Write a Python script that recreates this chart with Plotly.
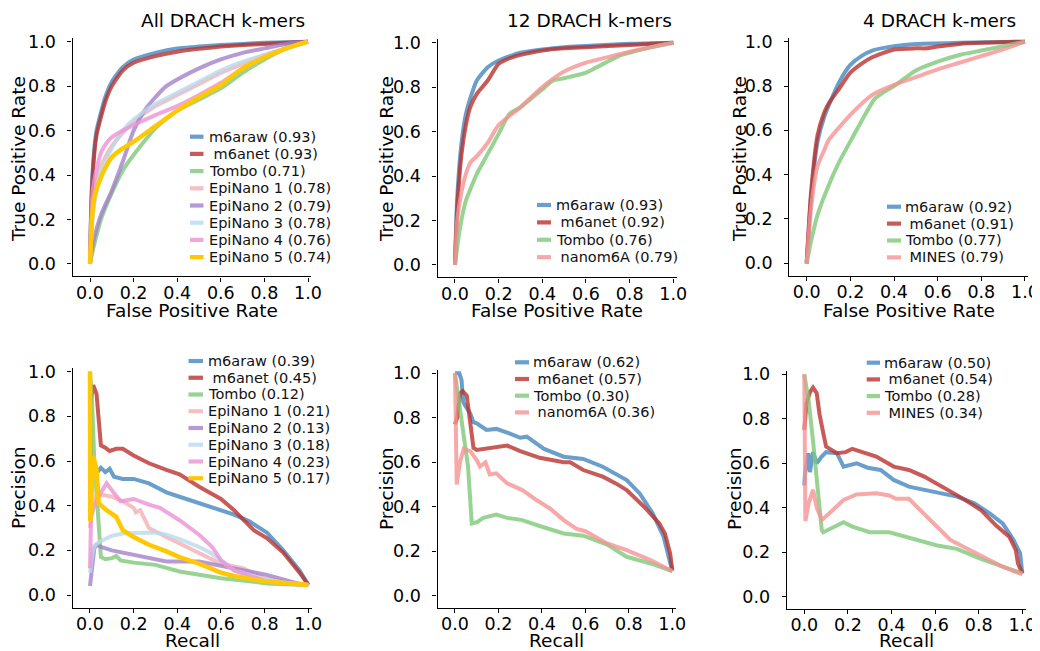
import plotly.graph_objects as go

# ---------------- data ----------------
tick_vals = [0.0, 0.2, 0.4, 0.6, 0.8, 1.0]
tick_text = ["0.0", "0.2", "0.4", "0.6", "0.8", "1.0"]
panel_titles = ["All DRACH k-mers", "12 DRACH k-mers", "4 DRACH k-mers"]

# --- ROC, all DRACH k-mers ---
roc_all_m6araw_x = [0, 0.005, 0.01, 0.02, 0.03, 0.05, 0.07, 0.1, 0.15, 0.2, 0.3, 0.4, 0.5, 0.6, 0.7, 0.8, 0.9, 1.0]
roc_all_m6araw_y = [0, 0.25, 0.38, 0.52, 0.6, 0.68, 0.75, 0.82, 0.885, 0.92, 0.95, 0.97, 0.978, 0.985, 0.99, 0.995, 0.998, 1.0]
roc_all_m6anet_x = [0, 0.005, 0.01, 0.02, 0.03, 0.05, 0.07, 0.1, 0.15, 0.2, 0.3, 0.4, 0.5, 0.6, 0.7, 0.8, 0.9, 1.0]
roc_all_m6anet_y = [0, 0.22, 0.35, 0.5, 0.58, 0.66, 0.73, 0.80, 0.87, 0.905, 0.935, 0.955, 0.968, 0.978, 0.985, 0.99, 0.995, 1.0]
roc_all_tombo_x = [0, 0.01, 0.02, 0.05, 0.1, 0.15, 0.2, 0.3, 0.4, 0.5, 0.6, 0.7, 0.8, 0.9, 1.0]
roc_all_tombo_y = [0, 0.05, 0.09, 0.2, 0.32, 0.42, 0.49, 0.61, 0.69, 0.74, 0.79, 0.86, 0.92, 0.97, 1.0]
roc_all_epi1_x = [0, 0.01, 0.02, 0.05, 0.1, 0.15, 0.2, 0.3, 0.4, 0.5, 0.6, 0.7, 0.8, 0.9, 1.0]
roc_all_epi1_y = [0, 0.2, 0.3, 0.44, 0.53, 0.59, 0.64, 0.71, 0.76, 0.81, 0.86, 0.9, 0.94, 0.97, 1.0]
roc_all_epi2_x = [0, 0.01, 0.02, 0.05, 0.1, 0.15, 0.2, 0.25, 0.3, 0.35, 0.4, 0.5, 0.6, 0.7, 0.8, 0.9, 1.0]
roc_all_epi2_y = [0, 0.07, 0.12, 0.22, 0.33, 0.46, 0.6, 0.69, 0.75, 0.8, 0.83, 0.88, 0.92, 0.95, 0.97, 0.99, 1.0]
roc_all_epi3_x = [0, 0.01, 0.02, 0.05, 0.1, 0.15, 0.2, 0.3, 0.4, 0.5, 0.6, 0.7, 0.8, 0.9, 1.0]
roc_all_epi3_y = [0, 0.18, 0.27, 0.42, 0.52, 0.6, 0.65, 0.72, 0.77, 0.82, 0.87, 0.91, 0.94, 0.97, 1.0]
roc_all_epi4_x = [0, 0.01, 0.02, 0.05, 0.08, 0.1, 0.15, 0.2, 0.3, 0.4, 0.5, 0.6, 0.7, 0.8, 0.9, 1.0]
roc_all_epi4_y = [0, 0.3, 0.38, 0.5, 0.55, 0.57, 0.6, 0.625, 0.67, 0.71, 0.76, 0.815, 0.88, 0.93, 0.97, 1.0]
roc_all_epi5_x = [0, 0.01, 0.02, 0.05, 0.08, 0.1, 0.15, 0.2, 0.3, 0.4, 0.5, 0.6, 0.7, 0.8, 0.9, 1.0]
roc_all_epi5_y = [0, 0.22, 0.3, 0.39, 0.45, 0.48, 0.52, 0.55, 0.62, 0.69, 0.75, 0.805, 0.88, 0.93, 0.97, 1.0]

# --- ROC, 12 DRACH k-mers ---
roc_12_m6araw_x = [0, 0.01, 0.03, 0.05, 0.07, 0.1, 0.15, 0.2, 0.3, 0.4, 0.5, 0.6, 0.8, 1.0]
roc_12_m6araw_y = [0, 0.3, 0.55, 0.68, 0.75, 0.83, 0.89, 0.92, 0.955, 0.97, 0.98, 0.985, 0.995, 1.0]
roc_12_m6anet_x = [0, 0.01, 0.03, 0.05, 0.07, 0.1, 0.15, 0.2, 0.25, 0.3, 0.4, 0.5, 0.6, 0.8, 1.0]
roc_12_m6anet_y = [0, 0.25, 0.5, 0.63, 0.71, 0.77, 0.83, 0.905, 0.93, 0.945, 0.965, 0.975, 0.98, 0.99, 1.0]
roc_12_tombo_x = [0, 0.02, 0.05, 0.07, 0.1, 0.15, 0.2, 0.25, 0.3, 0.4, 0.45, 0.5, 0.6, 0.65, 0.75, 0.8, 0.9, 1.0]
roc_12_tombo_y = [0, 0.15, 0.29, 0.34, 0.41, 0.5, 0.59, 0.68, 0.71, 0.79, 0.83, 0.84, 0.865, 0.89, 0.94, 0.955, 0.98, 1.0]
roc_12_nanom6a_x = [0, 0.01, 0.03, 0.05, 0.07, 0.1, 0.15, 0.2, 0.3, 0.4, 0.5, 0.6, 0.7, 0.8, 0.9, 1.0]
roc_12_nanom6a_y = [0, 0.2, 0.33, 0.41, 0.46, 0.49, 0.55, 0.63, 0.71, 0.8, 0.87, 0.91, 0.935, 0.96, 0.98, 1.0]

# --- ROC, 4 DRACH k-mers ---
roc_4_m6araw_x = [0, 0.02, 0.05, 0.08, 0.1, 0.15, 0.2, 0.25, 0.3, 0.4, 0.5, 0.7, 1.0]
roc_4_m6araw_y = [0, 0.3, 0.55, 0.66, 0.71, 0.82, 0.895, 0.935, 0.96, 0.98, 0.99, 0.995, 1.0]
roc_4_m6anet_x = [0, 0.02, 0.05, 0.08, 0.1, 0.15, 0.2, 0.25, 0.3, 0.4, 0.5, 0.55, 0.6, 0.7, 0.8, 1.0]
roc_4_m6anet_y = [0, 0.32, 0.58, 0.68, 0.72, 0.79, 0.86, 0.9, 0.93, 0.965, 0.97, 0.97, 0.978, 0.99, 0.995, 1.0]
roc_4_tombo_x = [0, 0.02, 0.05, 0.1, 0.15, 0.2, 0.25, 0.31, 0.35, 0.4, 0.5, 0.6, 0.7, 0.8, 0.9, 1.0]
roc_4_tombo_y = [0, 0.1, 0.22, 0.35, 0.46, 0.55, 0.64, 0.74, 0.77, 0.8, 0.87, 0.91, 0.94, 0.96, 0.98, 1.0]
roc_4_mines_x = [0, 0.02, 0.05, 0.08, 0.1, 0.15, 0.2, 0.3, 0.4, 0.5, 0.6, 0.7, 0.8, 0.9, 1.0]
roc_4_mines_y = [0, 0.25, 0.44, 0.51, 0.555, 0.615, 0.67, 0.76, 0.805, 0.84, 0.875, 0.905, 0.935, 0.965, 1.0]

# --- PR, all DRACH k-mers ---
pr_all_m6araw_x = [0, 0.005, 0.02, 0.03, 0.05, 0.07, 0.09, 0.11, 0.15, 0.2, 0.27, 0.35, 0.41, 0.5, 0.6, 0.66, 0.73, 0.81, 0.885, 0.96, 1.0]
pr_all_m6araw_y = [1.0, 0.6, 0.55, 0.545, 0.57, 0.55, 0.565, 0.53, 0.52, 0.52, 0.5, 0.46, 0.44, 0.41, 0.38, 0.36, 0.33, 0.28, 0.2, 0.11, 0.045]
pr_all_m6anet_x = [0, 0.015, 0.03, 0.04, 0.05, 0.07, 0.09, 0.12, 0.15, 0.2, 0.27, 0.35, 0.41, 0.5, 0.6, 0.66, 0.75, 0.81, 0.885, 0.96, 1.0]
pr_all_m6anet_y = [0.85, 0.94, 0.9, 0.76, 0.67, 0.66, 0.645, 0.655, 0.655, 0.625, 0.59, 0.56, 0.54, 0.485, 0.43, 0.38, 0.29, 0.255, 0.19, 0.1, 0.045]
pr_all_tombo_x = [0, 0.01, 0.02, 0.035, 0.05, 0.07, 0.1, 0.12, 0.14, 0.2, 0.3, 0.41, 0.5, 0.6, 0.7, 0.81, 0.9, 1.0]
pr_all_tombo_y = [1.0, 0.85, 0.6, 0.35, 0.17, 0.16, 0.165, 0.175, 0.155, 0.145, 0.135, 0.105, 0.09, 0.075, 0.065, 0.052, 0.048, 0.045]
pr_all_epi1_x = [0, 0.01, 0.03, 0.05, 0.1, 0.15, 0.2, 0.21, 0.23, 0.27, 0.35, 0.41, 0.5, 0.6, 0.7, 0.8, 0.9, 1.0]
pr_all_epi1_y = [0.3, 0.4, 0.45, 0.45, 0.44, 0.42, 0.39, 0.37, 0.38, 0.3, 0.26, 0.23, 0.19, 0.14, 0.12, 0.075, 0.058, 0.045]
pr_all_epi2_x = [0, 0.01, 0.02, 0.03, 0.05, 0.1, 0.2, 0.3, 0.35, 0.5, 0.6, 0.66, 0.81, 0.96, 1.0]
pr_all_epi2_y = [0.04, 0.15, 0.21, 0.225, 0.215, 0.2, 0.18, 0.16, 0.15, 0.15, 0.13, 0.12, 0.09, 0.05, 0.045]
pr_all_epi3_x = [0, 0.01, 0.02, 0.045, 0.1, 0.15, 0.2, 0.27, 0.3, 0.35, 0.41, 0.5, 0.55, 0.6, 0.66, 0.8, 0.9, 1.0]
pr_all_epi3_y = [0.1, 0.18, 0.22, 0.24, 0.265, 0.275, 0.278, 0.28, 0.28, 0.27, 0.25, 0.215, 0.19, 0.155, 0.11, 0.07, 0.055, 0.045]
pr_all_epi4_x = [0, 0.005, 0.02, 0.045, 0.076, 0.09, 0.107, 0.14, 0.2, 0.27, 0.32, 0.41, 0.5, 0.56, 0.6, 0.66, 0.81, 0.9, 1.0]
pr_all_epi4_y = [0.12, 0.35, 0.4, 0.45, 0.5, 0.48, 0.46, 0.42, 0.43, 0.405, 0.39, 0.335, 0.27, 0.215, 0.155, 0.11, 0.06, 0.05, 0.045]
pr_all_epi5_x = [0, 0.001, 0.015, 0.03, 0.04, 0.076, 0.12, 0.15, 0.2, 0.27, 0.35, 0.41, 0.5, 0.6, 0.66, 0.81, 1.0]
pr_all_epi5_y = [1.0, 0.33, 0.62, 0.56, 0.41, 0.38, 0.35, 0.29, 0.26, 0.225, 0.195, 0.17, 0.14, 0.1, 0.085, 0.06, 0.045]

# --- PR, 12 DRACH k-mers ---
pr_12_m6araw_x = [0, 0.02, 0.03, 0.038, 0.05, 0.07, 0.085, 0.1, 0.145, 0.19, 0.25, 0.3, 0.33, 0.41, 0.5, 0.59, 0.68, 0.79, 0.85, 0.91, 0.96, 1.0]
pr_12_m6araw_y = [1.0, 1.0, 0.97, 0.87, 0.85, 0.82, 0.78, 0.775, 0.745, 0.75, 0.73, 0.71, 0.715, 0.66, 0.625, 0.615, 0.58, 0.52, 0.46, 0.37, 0.265, 0.11]
pr_12_m6anet_x = [0, 0.01, 0.023, 0.035, 0.054, 0.069, 0.085, 0.1, 0.16, 0.24, 0.3, 0.39, 0.5, 0.53, 0.59, 0.68, 0.74, 0.79, 0.87, 0.94, 0.966, 0.99, 1.0]
pr_12_m6anet_y = [0.77, 0.8, 0.91, 0.92, 0.9, 0.78, 0.665, 0.655, 0.665, 0.675, 0.65, 0.62, 0.6, 0.6, 0.565, 0.535, 0.505, 0.475, 0.4, 0.325, 0.28, 0.19, 0.115]
pr_12_tombo_x = [0, 0.02, 0.04, 0.06, 0.077, 0.1, 0.13, 0.19, 0.24, 0.31, 0.4, 0.5, 0.59, 0.7, 0.79, 0.9, 1.0]
pr_12_tombo_y = [1.0, 0.85, 0.72, 0.58, 0.325, 0.33, 0.35, 0.365, 0.35, 0.34, 0.31, 0.28, 0.27, 0.23, 0.175, 0.145, 0.11]
pr_12_nanom6a_x = [0, 0.008, 0.023, 0.04, 0.07, 0.1, 0.115, 0.14, 0.16, 0.19, 0.24, 0.31, 0.375, 0.44, 0.5, 0.56, 0.6, 0.7, 0.79, 0.9, 1.0]
pr_12_nanom6a_y = [1.0, 0.5, 0.6, 0.66, 0.65, 0.61, 0.58, 0.6, 0.545, 0.55, 0.505, 0.475, 0.43, 0.39, 0.34, 0.3, 0.29, 0.235, 0.205, 0.16, 0.11]

# --- PR, 4 DRACH k-mers ---
pr_4_m6araw_x = [0, 0.003, 0.018, 0.026, 0.04, 0.057, 0.08, 0.1, 0.15, 0.18, 0.24, 0.29, 0.35, 0.41, 0.48, 0.61, 0.7, 0.78, 0.85, 0.91, 0.96, 0.99, 1.0]
pr_4_m6araw_y = [0.5, 0.55, 0.645, 0.56, 0.65, 0.6, 0.63, 0.65, 0.645, 0.585, 0.6, 0.58, 0.57, 0.525, 0.495, 0.47, 0.45, 0.42, 0.375, 0.33, 0.255, 0.195, 0.105]
pr_4_m6anet_x = [0, 0.003, 0.01, 0.026, 0.04, 0.057, 0.07, 0.087, 0.1, 0.15, 0.19, 0.22, 0.29, 0.33, 0.41, 0.48, 0.55, 0.64, 0.73, 0.81, 0.88, 0.94, 0.97, 0.98, 1.0]
pr_4_m6anet_y = [0.75, 0.8, 0.87, 0.92, 0.94, 0.915, 0.82, 0.735, 0.675, 0.645, 0.65, 0.665, 0.64, 0.63, 0.585, 0.57, 0.54, 0.49, 0.44, 0.39, 0.32, 0.27, 0.21, 0.15, 0.105]
pr_4_tombo_x = [0, 0.02, 0.04, 0.064, 0.08, 0.087, 0.18, 0.22, 0.3, 0.39, 0.52, 0.61, 0.7, 0.81, 0.91, 1.0]
pr_4_tombo_y = [1.0, 0.88, 0.7, 0.45, 0.3, 0.29, 0.335, 0.315, 0.29, 0.29, 0.255, 0.23, 0.215, 0.17, 0.135, 0.105]
pr_4_mines_x = [0, 0.005, 0.02, 0.04, 0.057, 0.08, 0.12, 0.18, 0.24, 0.33, 0.39, 0.42, 0.48, 0.55, 0.61, 0.67, 0.73, 0.82, 0.91, 1.0]
pr_4_mines_y = [1.0, 0.34, 0.42, 0.48, 0.4, 0.345, 0.38, 0.435, 0.46, 0.465, 0.455, 0.44, 0.44, 0.37, 0.31, 0.255, 0.225, 0.18, 0.135, 0.1]

# ---------------- styling ----------------
FONT = "DejaVu Sans"
# the page body has an 8px margin, so the figure sits at (8, 8) in the window
OFF = 8.0
W, H = 1032, 643
X_RANGE = [-0.08, 1.015]
Y_RANGE = [-0.056, 1.015]

C_RAW = "rgba(69,135,191,0.8)"
C_NET = "rgba(186,50,46,0.8)"
C_TOMBO = "rgba(126,200,121,0.8)"
C_EPI1 = "rgba(242,176,180,0.8)"
C_EPI2 = "rgba(164,129,204,0.8)"
C_EPI3 = "rgba(186,216,236,0.8)"
C_EPI4 = "rgba(236,146,211,0.8)"
C_EPI5 = "rgba(255,200,0,1.0)"
C_PINK = "rgba(245,146,146,0.8)"


def px_x(v):
    return (v - OFF) / W


def px_y(v):
    return 1 - (v - OFF) / H


# panel pixel geometry (window px): position of value 0 and px per unit
geom = [
    dict(x0=90.0, ux=218.0, y0=264.0, uy=222.3),
    dict(x0=455.0, ux=218.3, y0=265.0, uy=222.3),
    dict(x0=806.7, ux=218.3, y0=263.3, uy=221.6),
    dict(x0=90.0, ux=218.3, y0=595.0, uy=223.3),
    dict(x0=455.0, ux=217.3, y0=595.7, uy=222.4),
    dict(x0=804.3, ux=218.0, y0=596.7, uy=222.4),
]

panels = [
    [("m6araw (0.93)", roc_all_m6araw_x, roc_all_m6araw_y, C_RAW),
     (" m6anet (0.93)", roc_all_m6anet_x, roc_all_m6anet_y, C_NET),
     ("Tombo (0.71)", roc_all_tombo_x, roc_all_tombo_y, C_TOMBO),
     ("EpiNano 1 (0.78)", roc_all_epi1_x, roc_all_epi1_y, C_EPI1),
     ("EpiNano 2 (0.79)", roc_all_epi2_x, roc_all_epi2_y, C_EPI2),
     ("EpiNano 3 (0.78)", roc_all_epi3_x, roc_all_epi3_y, C_EPI3),
     ("EpiNano 4 (0.76)", roc_all_epi4_x, roc_all_epi4_y, C_EPI4),
     ("EpiNano 5 (0.74)", roc_all_epi5_x, roc_all_epi5_y, C_EPI5)],
    [("m6araw (0.93)", roc_12_m6araw_x, roc_12_m6araw_y, C_RAW),
     (" m6anet (0.92)", roc_12_m6anet_x, roc_12_m6anet_y, C_NET),
     ("Tombo (0.76)", roc_12_tombo_x, roc_12_tombo_y, C_TOMBO),
     (" nanom6A (0.79)", roc_12_nanom6a_x, roc_12_nanom6a_y, C_PINK)],
    [("m6araw (0.92)", roc_4_m6araw_x, roc_4_m6araw_y, C_RAW),
     (" m6anet (0.91)", roc_4_m6anet_x, roc_4_m6anet_y, C_NET),
     ("Tombo (0.77)", roc_4_tombo_x, roc_4_tombo_y, C_TOMBO),
     (" MINES (0.79)", roc_4_mines_x, roc_4_mines_y, C_PINK)],
    [("m6araw (0.39)", pr_all_m6araw_x, pr_all_m6araw_y, C_RAW),
     (" m6anet (0.45)", pr_all_m6anet_x, pr_all_m6anet_y, C_NET),
     ("Tombo (0.12)", pr_all_tombo_x, pr_all_tombo_y, C_TOMBO),
     ("EpiNano 1 (0.21)", pr_all_epi1_x, pr_all_epi1_y, C_EPI1),
     ("EpiNano 2 (0.13)", pr_all_epi2_x, pr_all_epi2_y, C_EPI2),
     ("EpiNano 3 (0.18)", pr_all_epi3_x, pr_all_epi3_y, C_EPI3),
     ("EpiNano 4 (0.23)", pr_all_epi4_x, pr_all_epi4_y, C_EPI4),
     ("EpiNano 5 (0.17)", pr_all_epi5_x, pr_all_epi5_y, C_EPI5)],
    [("m6araw (0.62)", pr_12_m6araw_x, pr_12_m6araw_y, C_RAW),
     (" m6anet (0.57)", pr_12_m6anet_x, pr_12_m6anet_y, C_NET),
     ("Tombo (0.30)", pr_12_tombo_x, pr_12_tombo_y, C_TOMBO),
     (" nanom6A (0.36)", pr_12_nanom6a_x, pr_12_nanom6a_y, C_PINK)],
    [("m6araw (0.50)", pr_4_m6araw_x, pr_4_m6araw_y, C_RAW),
     (" m6anet (0.54)", pr_4_m6anet_x, pr_4_m6anet_y, C_NET),
     ("Tombo (0.28)", pr_4_tombo_x, pr_4_tombo_y, C_TOMBO),
     (" MINES (0.34)", pr_4_mines_x, pr_4_mines_y, C_PINK)],
]

# legend layout per panel (window px): sample start/end, text x, first row y, row step
legend_geom = [
    (190.0, 203.5, 207.0, 136.7, 17.2),
    (537.0, 551.0, 553.5, 205.0, 17.4),
    (887.0, 901.0, 903.0, 206.7, 16.9),
    (188.5, 203.0, 205.5, 361.0, 16.75),
    (515.0, 529.0, 530.5, 362.3, 16.7),
    (866.7, 880.0, 881.5, 362.7, 16.7),
]

title_centers = [223.0, 589.0, 939.0]
TITLE_Y = 20.0
XTITLE_Y = [310.0, 310.0, 310.0, 640.0, 640.0, 640.0]
YTITLE_X = [18.0, 386.0, 739.0, 18.0, 386.0, 734.0]
YTITLE_Y = [159.0, 159.0, 159.0, 488.0, 489.0, 489.0]

fig = go.Figure()
shapes = []
annotations = []

for i, traces in enumerate(panels):
    k = "" if i == 0 else str(i + 1)
    g = geom[i]
    xd = [px_x(g["x0"] + X_RANGE[0] * g["ux"]), px_x(g["x0"] + X_RANGE[1] * g["ux"])]
    yd = [px_y(g["y0"] - Y_RANGE[0] * g["uy"]), px_y(g["y0"] - Y_RANGE[1] * g["uy"])]
    is_roc = i < 3
    axis_common = dict(
        showline=True, linecolor="black", linewidth=1.3, mirror=False,
        ticks="outside", ticklen=4, tickwidth=1.3, tickcolor="black",
        tickvals=tick_vals, ticktext=tick_text,
        tickfont=dict(family=FONT, size=17.5, color="black"),
        showgrid=False, zeroline=False, fixedrange=True,
    )
    fig.layout["xaxis" + k] = dict(
        axis_common, domain=xd, range=X_RANGE, anchor="y" + k,
        ticklabelstandoff=-4,
    )
    fig.layout["yaxis" + k] = dict(
        axis_common, domain=yd, range=Y_RANGE, anchor="x" + k,
        ticklabelstandoff=8,
    )
    # axis titles
    annotations.append(dict(text="False Positive Rate" if is_roc else "Recall",
                            xref="x" + k + " domain", yref="paper", x=0.5,
                            y=px_y(XTITLE_Y[i]), xanchor="center", yanchor="middle",
                            showarrow=False,
                            font=dict(family=FONT, size=18.5, color="black")))
    annotations.append(dict(text="True Positive Rate" if is_roc else "Precision",
                            xref="paper", yref="paper", x=px_x(YTITLE_X[i]),
                            y=px_y(YTITLE_Y[i]), xanchor="center", yanchor="middle",
                            textangle=-90, showarrow=False,
                            font=dict(family=FONT, size=18.5, color="black")))
    for name, xs, ys, col in traces:
        fig.add_trace(go.Scatter(
            x=xs, y=ys, mode="lines", name=name.strip(), showlegend=False,
            line=dict(color=col, width=4.0 if col != C_EPI5 else 4.5,
                      shape="spline" if is_roc else "linear", smoothing=0.6),
            xaxis="x" + k, yaxis="y" + k, hoverinfo="skip",
        ))
    sx0, sx1, tx, ry0, step = legend_geom[i]
    for j, (name, xs, ys, col) in enumerate(traces):
        ry = ry0 + j * step
        shapes.append(dict(type="line", xref="paper", yref="paper",
                           x0=px_x(sx0), x1=px_x(sx1), y0=px_y(ry), y1=px_y(ry),
                           line=dict(color=col, width=4.2)))
        label = name.replace(" ", "\u00a0", 1) if name.startswith(" ") else name
        annotations.append(dict(text=label, xref="paper", yref="paper",
                                x=px_x(tx), y=px_y(ry),
                                xanchor="left", yanchor="middle", showarrow=False,
                                font=dict(family=FONT, size=14.5, color="#111111")))

for t, cx in zip(panel_titles, title_centers):
    annotations.append(dict(text=t, xref="paper", yref="paper", x=px_x(cx), y=px_y(TITLE_Y),
                            xanchor="center", yanchor="middle", showarrow=False,
                            font=dict(family=FONT, size=18.5, color="black")))

fig.update_layout(
    width=W, height=H, margin=dict(l=0, r=0, t=0, b=0, autoexpand=False),
    paper_bgcolor="white", plot_bgcolor="white",
    font=dict(family=FONT, color="black"),
    shapes=shapes, annotations=annotations, showlegend=False,
)

fig.write_html("out.html")
